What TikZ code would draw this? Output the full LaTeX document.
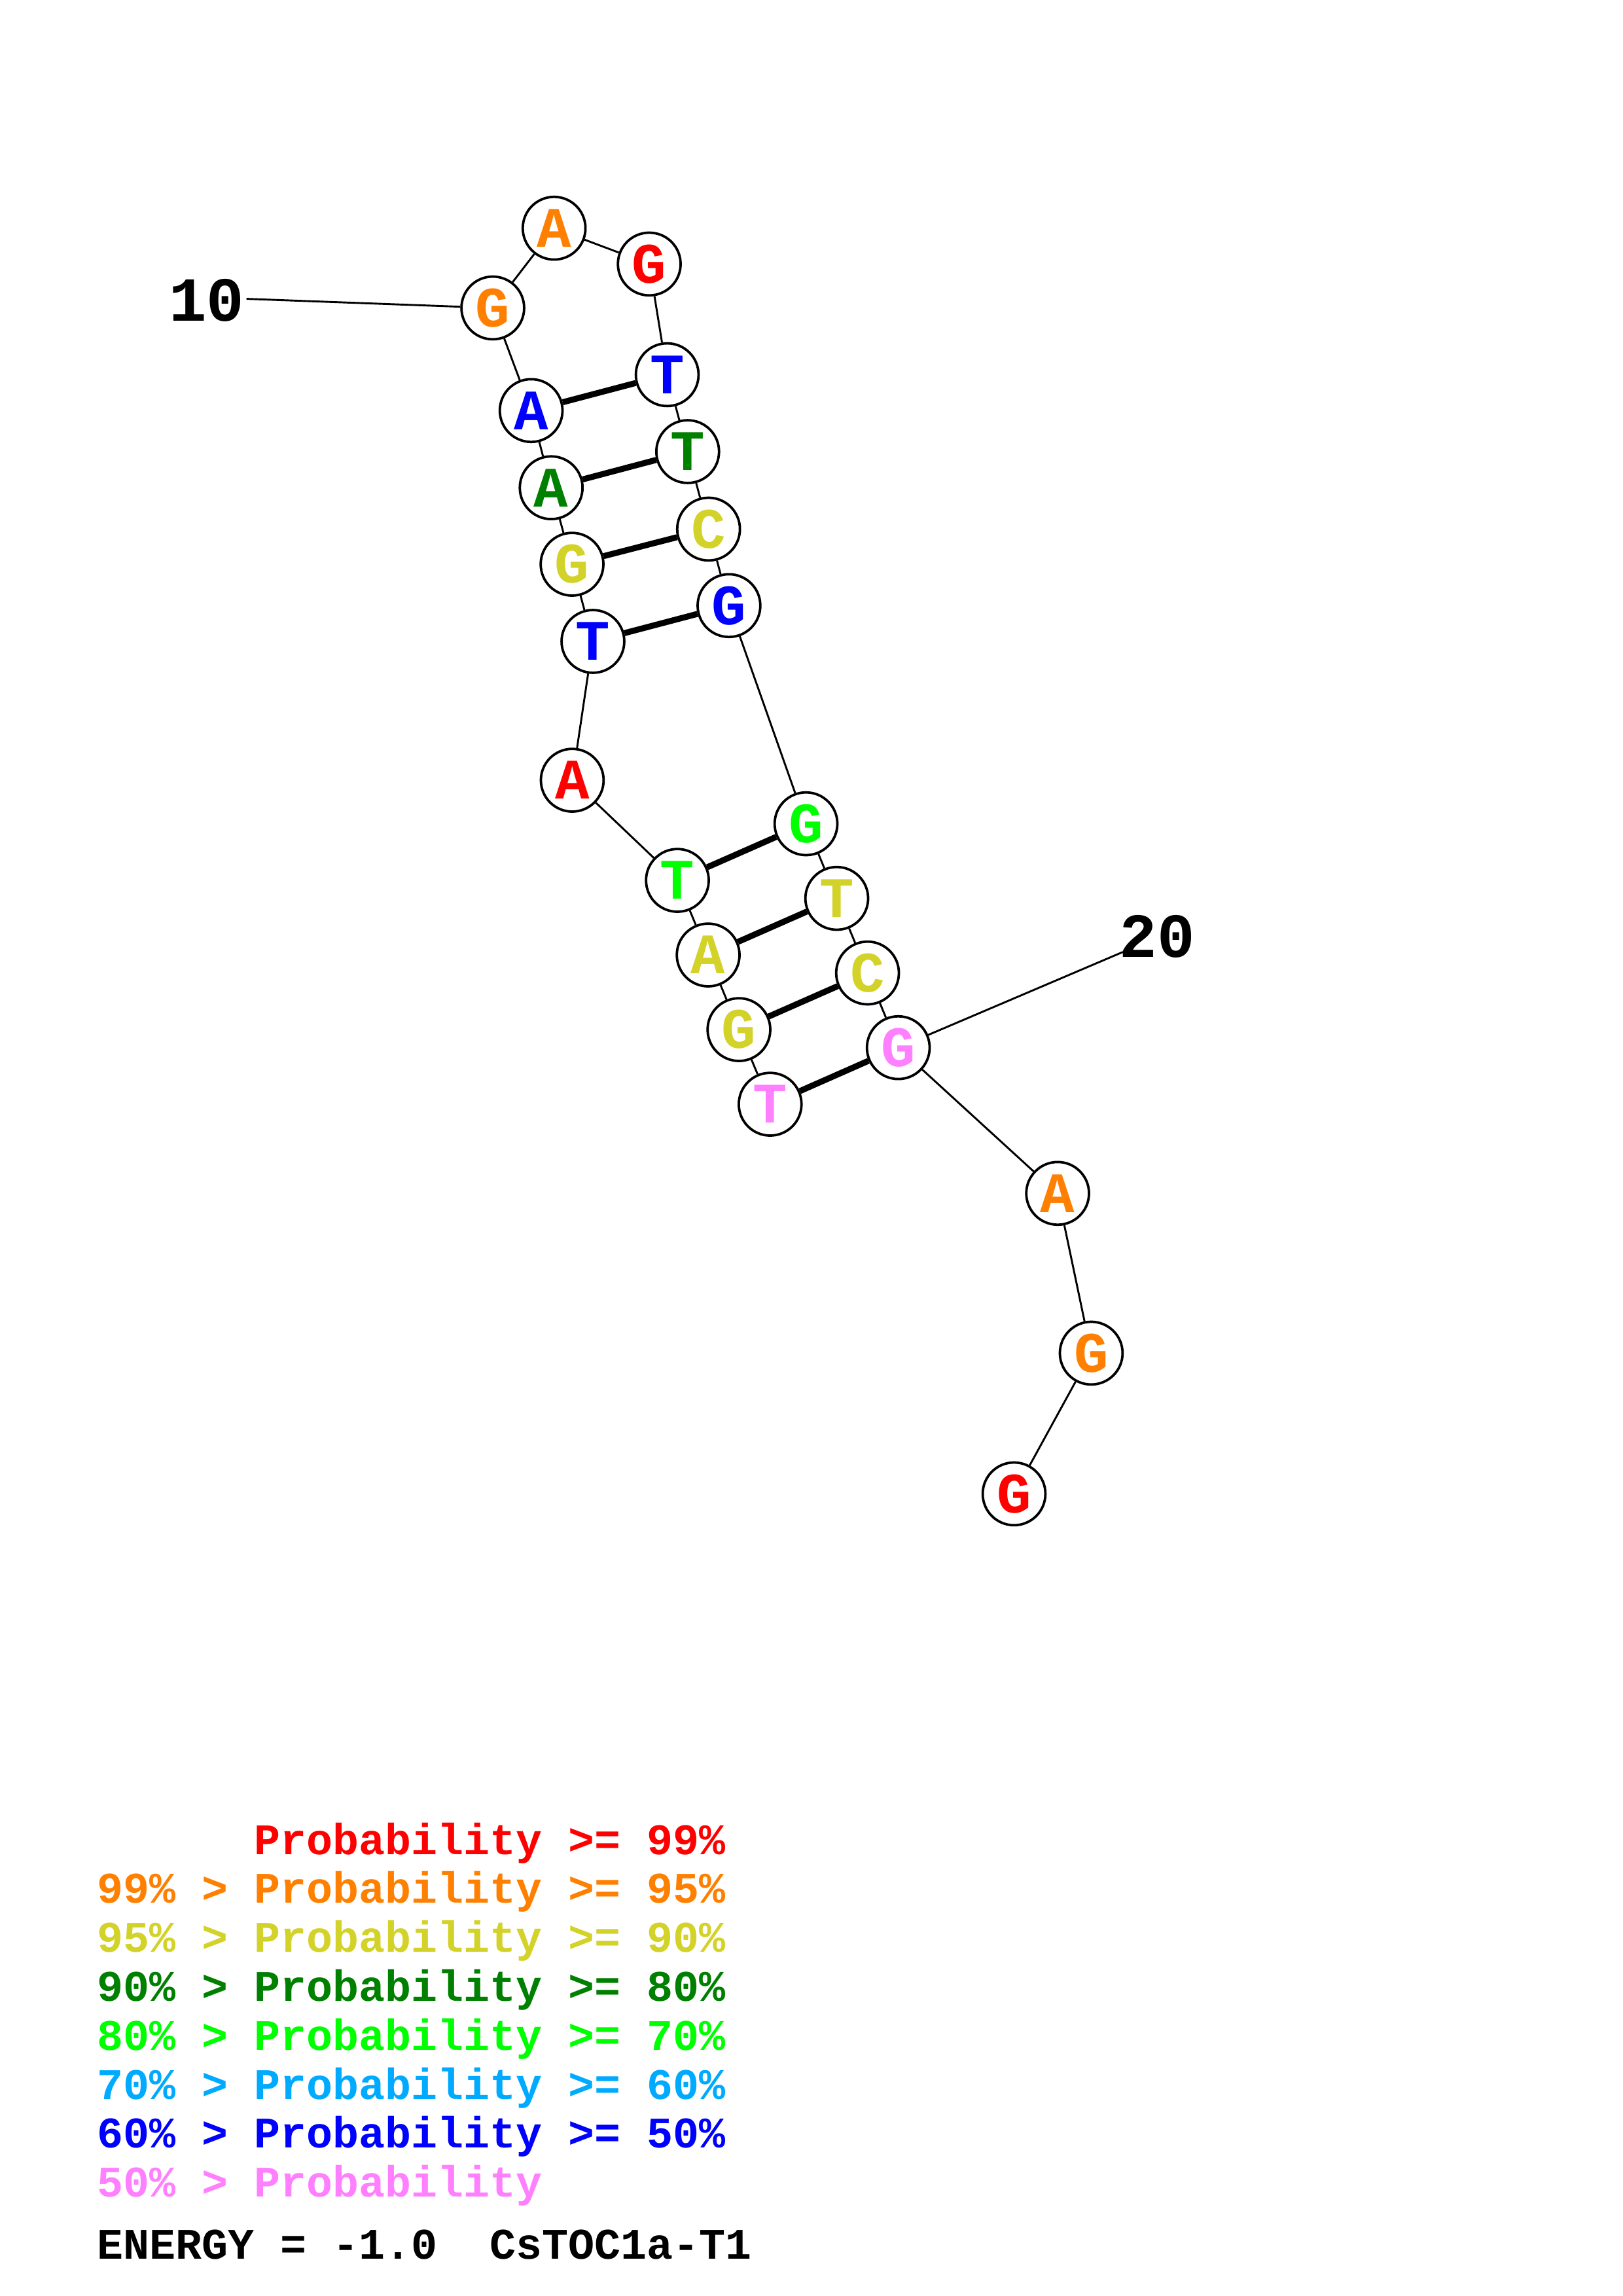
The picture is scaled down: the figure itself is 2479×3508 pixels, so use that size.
\documentclass[tikz,border=0pt]{standalone}
\usepackage{fontspec}
\setmainfont{Liberation Mono}
\definecolor{pr}{RGB}{255,0,0}
\definecolor{po}{RGB}{255,128,0}
\definecolor{py}{RGB}{210,210,40}
\definecolor{pdg}{RGB}{0,128,0}
\definecolor{pg}{RGB}{0,255,0}
\definecolor{plb}{RGB}{0,170,255}
\definecolor{pb}{RGB}{0,0,255}
\definecolor{pp}{RGB}{255,128,255}
\tikzset{
  base/.style={circle, draw=black, line width=0.9pt, fill=white, minimum size=23pt, inner sep=0pt, font=\fontsize{21}{21}\selectfont\bfseries},
  bb/.style={line width=0.7pt, black},
  pairline/.style={line width=2.2pt, black},
  numlab/.style={inner sep=0pt, font=\fontsize{23}{23}\selectfont\bfseries},
  leg/.style={anchor=base west, inner sep=0pt, font=\fontsize{16}{16}\selectfont\bfseries}
}
\begin{document}
\begin{tikzpicture}[x=0.24pt, y=-0.24pt]
\useasboundingbox (0,0) rectangle (2479,3508);
% residues
\node[base, text=pp]  (n1)  at (1176.8,1687.1) {T};
\node[base, text=py]  (n2)  at (1129.1,1573.1) {G};
\node[base, text=py]  (n3)  at (1082.1,1459.1) {A};
\node[base, text=pg]  (n4)  at (1035.1,1345.1) {T};
\node[base, text=pr]  (n5)  at (874.4,1192.1) {A};
\node[base, text=pb]  (n6)  at (906,980) {T};
\node[base, text=py]  (n7)  at (874.1,862.1) {G};
\node[base, text=pdg] (n8)  at (842.2,745.2) {A};
\node[base, text=pb]  (n9)  at (811.6,627.3) {A};
\node[base, text=po]  (n10) at (753,470.5) {G};
\node[base, text=po]  (n11) at (846.7,348.7) {A};
\node[base, text=pr]  (n12) at (992.1,403.4) {G};
\node[base, text=pb]  (n13) at (1019.5,572.5) {T};
\node[base, text=pdg] (n14) at (1050.8,690) {T};
\node[base, text=py]  (n15) at (1082.7,808.4) {C};
\node[base, text=pb]  (n16) at (1113.9,925.3) {G};
\node[base, text=pg]  (n17) at (1231.6,1258.6) {G};
\node[base, text=py]  (n18) at (1278.6,1372.6) {T};
\node[base, text=py]  (n19) at (1325.6,1486.6) {C};
\node[base, text=pp]  (n20) at (1372.6,1600.7) {G};
\node[base, text=po]  (n21) at (1616.1,1823.3) {A};
\node[base, text=po]  (n22) at (1667.4,2067.4) {G};
\node[base, text=pr]  (n23) at (1549.5,2282.4) {G};
% backbone
\draw[bb] (n1)--(n2) (n2)--(n3) (n3)--(n4) (n4)--(n5) (n5)--(n6) (n6)--(n7)
  (n7)--(n8) (n8)--(n9) (n9)--(n10) (n10)--(n11) (n11)--(n12) (n12)--(n13)
  (n13)--(n14) (n14)--(n15) (n15)--(n16) (n16)--(n17) (n17)--(n18) (n18)--(n19)
  (n19)--(n20) (n20)--(n21) (n21)--(n22) (n22)--(n23);
% pairs
\draw[pairline] (n9)--(n13) (n8)--(n14) (n7)--(n15) (n6)--(n16)
  (n4)--(n17) (n3)--(n18) (n2)--(n19) (n1)--(n20);
% number labels
\node[numlab] (l10) at (316,459) {10};
\coordinate (c10) at (376.7,456.6);
\draw[bb] (c10)--(n10);
\node[numlab] (l20) at (1768.4,1431) {20};
\coordinate (c20) at (1715.8,1454.5);
\draw[bb] (n20)--(c20);
% legend
\node[leg, text=pr]  (g1) at (148,2833) {\phantom{99\% > }Probability >= 99\%};
\node[leg, text=po]  (g2) at (148,2907.8) {99\% > Probability >= 95\%};
\node[leg, text=py]  (g3) at (148,2982.6) {95\% > Probability >= 90\%};
\node[leg, text=pdg] (g4) at (148,3057.4) {90\% > Probability >= 80\%};
\node[leg, text=pg]  (g5) at (148,3132.2) {80\% > Probability >= 70\%};
\node[leg, text=plb] (g6) at (148,3207) {70\% > Probability >= 60\%};
\node[leg, text=pb]  (g7) at (148,3281.8) {60\% > Probability >= 50\%};
\node[leg, text=pp]  (g8) at (148,3356.6) {50\% > Probability};
\node[leg, text=black] (g9) at (148,3451) {ENERGY = -1.0\ \ CsTOC1a-T1};
\end{tikzpicture}
\end{document}
